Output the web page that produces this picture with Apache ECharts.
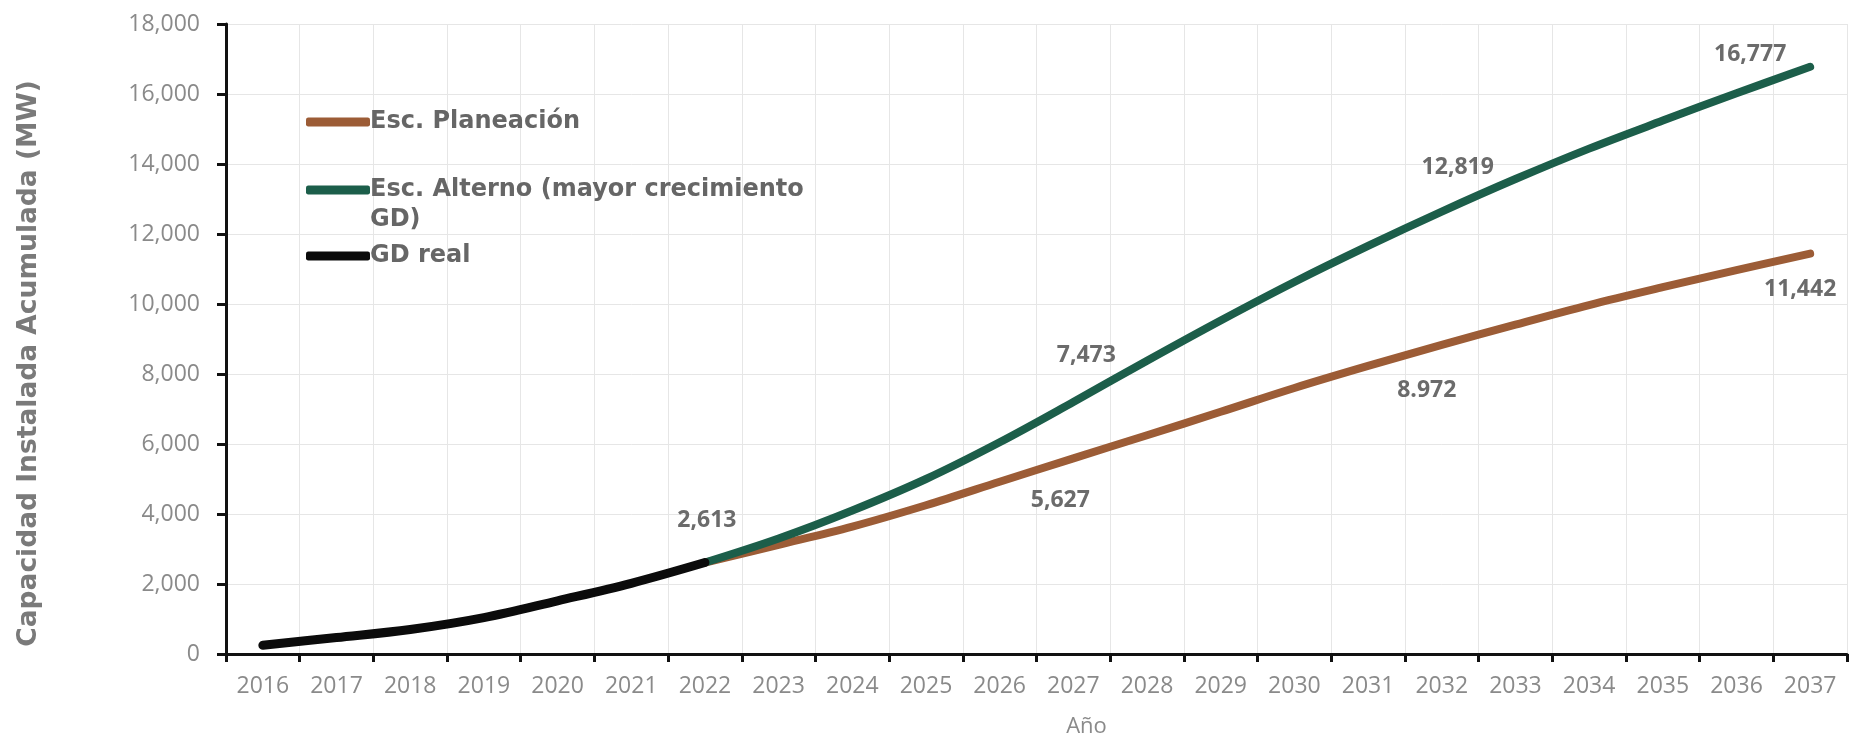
<!DOCTYPE html>
<html>
<head>
<meta charset="utf-8">
<script src="https://cdn.jsdelivr.net/npm/echarts@6/dist/echarts.min.js"></script>
<style>
html,body{margin:0;padding:0;background:#fff;}
#chart{width:1849px;height:734px;}
</style>
</head>
<body>
<div id="chart"></div>
<script>
// ---- data ----
const years = ['2016','2017','2018','2019','2020','2021','2022','2023','2024','2025','2026','2027','2028','2029','2030','2031','2032','2033','2034','2035','2036','2037'];
const gdReal = [250, 470, 700, 1040, 1520, 2020, 2613, null, null, null, null, null, null, null, null, null, null, null, null, null, null, null];
const escPlaneacion = [null, null, null, null, null, null, 2613, 3120, 3640, 4250, 4920, 5590, 6250, 6920, 7600, 8230, 8830, 9410, 9970, 10480, 10970, 11442];
const escAlterno = [null, null, null, null, null, null, 2613, 3300, 4100, 5000, 6050, 7200, 8380, 9530, 10630, 11660, 12640, 13570, 14440, 15240, 16020, 16777];
const yTicks = [0, 2000, 4000, 6000, 8000, 10000, 12000, 14000, 16000, 18000];
// printed data labels: [series, year, text]
const dataLabels = [
  ['real', '2022', '2,613'],
  ['plan', '2027', '5,627'],
  ['alt',  '2027', '7,473'],
  ['plan', '2032', '8.972'],
  ['alt',  '2032', '12,819'],
  ['alt',  '2037', '16,777'],
  ['plan', '2037', '11,442']
];
const names = {
  plan: 'Esc. Planeación',
  alt: 'Esc. Alterno (mayor crecimiento\nGD)',
  real: 'GD real'
};

// ---- styling ----
const C_PLAN = '#9c5c36';
const C_ALT = '#1c5e4a';
const C_REAL = '#0b0b0b';
const FONT = 'Open Sans';
const BOLDFONT = 'DejaVu Sans';
const labelOffsets = {
  'real2022': [2, -42],
  'plan2027': [-13, 42],
  'alt2027': [13, -47],
  'plan2032': [-15, 46],
  'alt2032': [16, -44],
  'alt2037': [-60, -12],
  'plan2037': [-10, 36]
};

function build(key, arr) {
  return arr.map((v, i) => {
    const lab = dataLabels.find(d => d[0] === key && d[1] === years[i]);
    if (!lab || v === null) return v;
    return {
      value: v,
      label: {
        show: true,
        formatter: lab[2],
        position: 'inside',
        offset: labelOffsets[key + years[i]],
        color: '#6b6b6b',
        fontFamily: FONT,
        fontWeight: 'bold',
        fontSize: 23
      }
    };
  });
}

const chart = echarts.init(document.getElementById('chart'), null, {renderer: 'canvas'});

const LH = 30;
// multi-line legend entries get an empty first line so the icon sits on the first text line
function legendFor(name, iconY) {
  const lines = name.split('\n').length;
  const total = lines === 1 ? 1 : lines * 2 - 1;
  return {
    data: [name],
    left: 306,
    top: iconY - total * LH / 2,
    orient: 'vertical',
    icon: 'roundRect',
    itemWidth: 64,
    itemHeight: 9,
    itemGap: 0,
    padding: 0,
    selectedMode: false,
    formatter: n => {
      const parts = n.split('\n');
      if (parts.length === 1) return n;
      return new Array(parts.length - 1).fill('').join('\n') + '\n' + n;
    },
    textStyle: {
      color: '#666666',
      fontFamily: BOLDFONT,
      fontWeight: 'bold',
      fontSize: 24,
      lineHeight: LH,
      padding: [0, 0, 0, -5]
    }
  };
}

const option = {
  backgroundColor: '#ffffff',
  animation: false,
  grid: {left: 226, right: 2, top: 24, bottom: 80, containLabel: false, outerBoundsMode: 'none'},
  legend: [
    legendFor(names.plan, 122),
    legendFor(names.alt, 190),
    legendFor(names.real, 256)
  ],
  xAxis: {
    type: 'category',
    data: years,
    boundaryGap: true,
    name: 'Año',
    nameLocation: 'middle',
    nameGap: 62,
    nameTextStyle: {color: '#8a8a8a', fontFamily: FONT, fontSize: 22, padding: [0, 0, 0, 100]},
    axisLine: {show: true, lineStyle: {color: '#111', width: 3}},
    axisTick: {show: true, alignWithLabel: false, length: 8, lineStyle: {color: '#111', width: 3}},
    axisLabel: {color: '#8a8a8a', fontFamily: FONT, fontSize: 23, margin: 21, interval: 0},
    splitLine: {show: true, lineStyle: {color: '#e6e6e6', width: 1}}
  },
  yAxis: {
    type: 'value',
    min: yTicks[0],
    max: yTicks[yTicks.length - 1],
    interval: yTicks[1] - yTicks[0],
    name: 'Capacidad Instalada Acumulada (MW)',
    nameLocation: 'middle',
    nameGap: 183,
    nameRotate: 90,
    nameTextStyle: {color: '#7a7a7a', fontFamily: BOLDFONT, fontWeight: 'bold', fontSize: 26.5, padding: [0, 49, 0, 0]},
    axisLine: {show: true, lineStyle: {color: '#111', width: 3}},
    axisTick: {show: true, length: 9, lineStyle: {color: '#111', width: 3}},
    axisLabel: {
      color: '#8a8a8a', fontFamily: FONT, fontSize: 23, margin: 26,
      formatter: v => v.toLocaleString('en-US')
    },
    splitLine: {show: true, lineStyle: {color: '#e6e6e6', width: 1}}
  },
  series: [
    {
      name: names.plan, type: 'line', data: build('plan', escPlaneacion),
      smooth: 0.35, symbol: 'circle', symbolSize: 1, showSymbol: true, connectNulls: false, z: 2,
      lineStyle: {color: C_PLAN, width: 8, cap: 'round', join: 'round'},
      itemStyle: {color: C_PLAN}
    },
    {
      name: names.alt, type: 'line', data: build('alt', escAlterno),
      smooth: 0.35, symbol: 'circle', symbolSize: 1, showSymbol: true, connectNulls: false, z: 3,
      lineStyle: {color: C_ALT, width: 8, cap: 'round', join: 'round'},
      itemStyle: {color: C_ALT}
    },
    {
      name: names.real, type: 'line', data: build('real', gdReal),
      smooth: 0.35, symbol: 'circle', symbolSize: 1, showSymbol: true, connectNulls: false, z: 4,
      lineStyle: {color: C_REAL, width: 9, cap: 'round', join: 'round'},
      itemStyle: {color: C_REAL}
    }
  ]
};
chart.setOption(option);
</script>
</body>
</html>
